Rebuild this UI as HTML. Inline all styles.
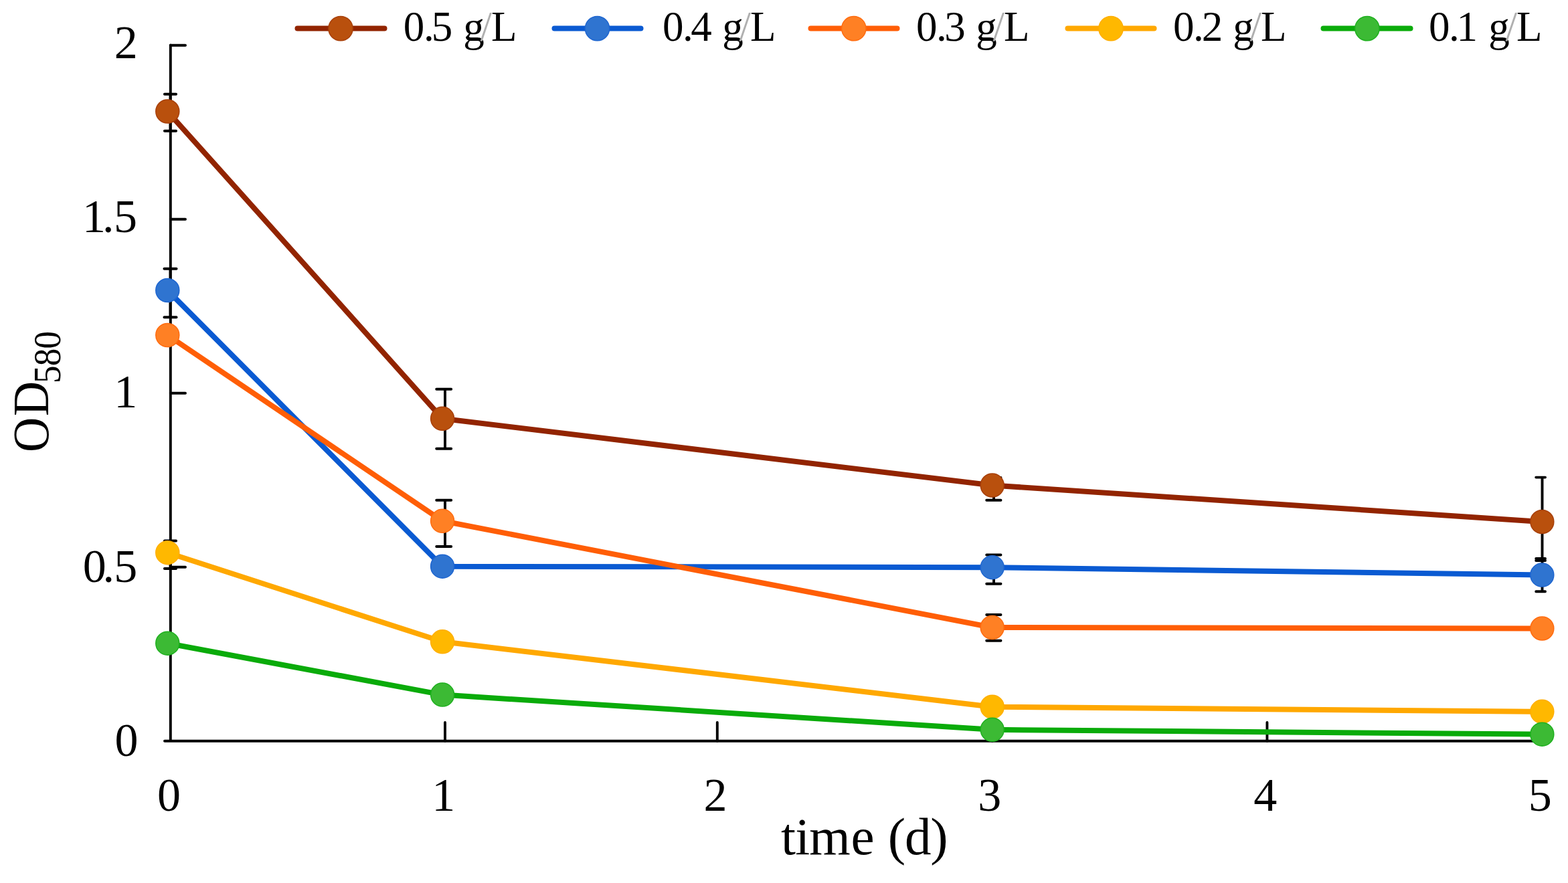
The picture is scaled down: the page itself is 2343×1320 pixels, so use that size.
<!DOCTYPE html><html><head><meta charset="utf-8"><title>OD580 chart</title><style>html,body{margin:0;padding:0;background:#fff;overflow:hidden}svg{display:block}</style></head><body>
<svg width="2343" height="1320" viewBox="0 0 2343 1320">
<rect width="2343" height="1320" fill="#fff"/>
<g stroke="#000" stroke-width="3.9" fill="none" stroke-linecap="round">
<path d="M254.8 67.5 V1107.8 M246 1107.8 H2300"/>
<path d="M254.8 67.8 H277"/>
<path d="M254.8 327.8 H277"/>
<path d="M254.8 587.8 H277"/>
<path d="M254.8 847.8 H277"/>
<path d="M665.0 1107.8 V1080"/>
<path d="M1071.8 1107.8 V1080"/>
<path d="M1482.7 1107.8 V1080"/>
<path d="M1893.4 1107.8 V1080"/>
</g>
<g stroke="#000" stroke-width="3.9" fill="none" stroke-linecap="round">
<path d="M254.5 140.7 V195.7 M245.9 140.7 H263.1 M245.9 195.7 H263.1"/>
<path d="M254.5 401.7 V474.3 M245.4 401.7 H263.6 M245.4 474.3 H263.6"/>
<path d="M254.5 808.5 V850.0 M245.9 808.5 H263.1 M245.9 850.0 H263.1"/>
<path d="M665.0 581.7 V670.8 M652.2 581.7 H674.2 M652.2 670.8 H674.2"/>
<path d="M665.0 747.8 V817.0 M652.2 747.8 H674.2 M652.2 817.0 H674.2"/>
<path d="M1485.0 714.0 V747.8 M1474.2 714.0 H1495.5 M1474.2 747.8 H1495.5"/>
<path d="M1485.0 829.5 V872.7 M1474.2 829.5 H1495.5 M1474.2 872.7 H1495.5"/>
<path d="M1485.0 919.0 V957.7 M1474.2 919.0 H1495.5 M1474.2 957.7 H1495.5"/>
<path d="M2304.5 713.6 V838.0 M2295.2 713.6 H2309.0 M2295.2 838.0 H2309.0"/>
<path d="M2304.5 835.0 V884.3 M2295.2 835.0 H2309.0 M2295.2 884.3 H2309.0"/>
</g>
<polyline points="250.3,166.5 661.1,625.8 1482.7,725.5 2304.3,780.0" fill="none" stroke="#922400" stroke-width="8" stroke-linejoin="round"/>
<polyline points="250.3,434.0 661.1,846.7 1482.7,848.2 2304.3,859.6" fill="none" stroke="#0a5ad2" stroke-width="8" stroke-linejoin="round"/>
<polyline points="250.3,501.0 661.1,778.8 1482.7,938.0 2304.3,939.5" fill="none" stroke="#ff5e06" stroke-width="8" stroke-linejoin="round"/>
<polyline points="250.3,826.2 661.1,959.3 1482.7,1056.7 2304.3,1063.8" fill="none" stroke="#ffa800" stroke-width="8" stroke-linejoin="round"/>
<polyline points="250.3,961.7 661.1,1038.6 1482.7,1090.8 2304.3,1097.7" fill="none" stroke="#0aab0a" stroke-width="8" stroke-linejoin="round"/>
<circle cx="250.3" cy="166.5" r="17.5" fill="#b9500d" stroke="#a8400a" stroke-width="1.5"/>
<circle cx="661.1" cy="625.8" r="17.5" fill="#b9500d" stroke="#a8400a" stroke-width="1.5"/>
<circle cx="1482.7" cy="725.5" r="17.5" fill="#b9500d" stroke="#a8400a" stroke-width="1.5"/>
<circle cx="2304.3" cy="780.0" r="17.5" fill="#b9500d" stroke="#a8400a" stroke-width="1.5"/>
<circle cx="250.3" cy="434.0" r="17.5" fill="#2f74d0" stroke="#1f66d0" stroke-width="1.5"/>
<circle cx="661.1" cy="846.7" r="17.5" fill="#2f74d0" stroke="#1f66d0" stroke-width="1.5"/>
<circle cx="1482.7" cy="848.2" r="17.5" fill="#2f74d0" stroke="#1f66d0" stroke-width="1.5"/>
<circle cx="2304.3" cy="859.6" r="17.5" fill="#2f74d0" stroke="#1f66d0" stroke-width="1.5"/>
<circle cx="250.3" cy="501.0" r="17.5" fill="#ff8024" stroke="#ff6c10" stroke-width="1.5"/>
<circle cx="661.1" cy="778.8" r="17.5" fill="#ff8024" stroke="#ff6c10" stroke-width="1.5"/>
<circle cx="1482.7" cy="938.0" r="17.5" fill="#ff8024" stroke="#ff6c10" stroke-width="1.5"/>
<circle cx="2304.3" cy="939.5" r="17.5" fill="#ff8024" stroke="#ff6c10" stroke-width="1.5"/>
<circle cx="250.3" cy="826.2" r="17.5" fill="#ffb800" stroke="#ffae00" stroke-width="1.5"/>
<circle cx="661.1" cy="959.3" r="17.5" fill="#ffb800" stroke="#ffae00" stroke-width="1.5"/>
<circle cx="1482.7" cy="1056.7" r="17.5" fill="#ffb800" stroke="#ffae00" stroke-width="1.5"/>
<circle cx="2304.3" cy="1063.8" r="17.5" fill="#ffb800" stroke="#ffae00" stroke-width="1.5"/>
<circle cx="250.3" cy="961.7" r="17.5" fill="#3cba34" stroke="#1fb01f" stroke-width="1.5"/>
<circle cx="661.1" cy="1038.6" r="17.5" fill="#3cba34" stroke="#1fb01f" stroke-width="1.5"/>
<circle cx="1482.7" cy="1090.8" r="17.5" fill="#3cba34" stroke="#1fb01f" stroke-width="1.5"/>
<circle cx="2304.3" cy="1097.7" r="17.5" fill="#3cba34" stroke="#1fb01f" stroke-width="1.5"/>
<text transform="translate(0 86.5) scale(1.0 1)" font-family="'Liberation Serif', 'Times New Roman', serif" font-size="70" fill="#000" xml:space="preserve"><tspan x="170.79" y="0">2</tspan></text>
<text transform="translate(0 347.3) scale(1.0 1)" font-family="'Liberation Serif', 'Times New Roman', serif" font-size="70" fill="#000" xml:space="preserve"><tspan x="123.03" y="0">1</tspan><tspan x="152.90" y="0">.</tspan><tspan x="169.98" y="0">5</tspan></text>
<text transform="translate(0 608.8) scale(1.0 1)" font-family="'Liberation Serif', 'Times New Roman', serif" font-size="70" fill="#000" xml:space="preserve"><tspan x="170.18" y="0">1</tspan></text>
<text transform="translate(0 870.0) scale(1.0 1)" font-family="'Liberation Serif', 'Times New Roman', serif" font-size="70" fill="#000" xml:space="preserve"><tspan x="123.80" y="0">0</tspan><tspan x="153.45" y="0">.</tspan><tspan x="170.33" y="0">5</tspan></text>
<text transform="translate(0 1130.3) scale(1.0 1)" font-family="'Liberation Serif', 'Times New Roman', serif" font-size="70" fill="#000" xml:space="preserve"><tspan x="171.50" y="0">0</tspan></text>
<text transform="translate(0 1212) scale(1.0 1)" font-family="'Liberation Serif', 'Times New Roman', serif" font-size="70" fill="#000" xml:space="preserve"><tspan x="235.00" y="0">0</tspan></text>
<text transform="translate(0 1212) scale(1.0 1)" font-family="'Liberation Serif', 'Times New Roman', serif" font-size="70" fill="#000" xml:space="preserve"><tspan x="645.23" y="0">1</tspan></text>
<text transform="translate(0 1212) scale(1.0 1)" font-family="'Liberation Serif', 'Times New Roman', serif" font-size="70" fill="#000" xml:space="preserve"><tspan x="1051.39" y="0">2</tspan></text>
<text transform="translate(0 1212) scale(1.0 1)" font-family="'Liberation Serif', 'Times New Roman', serif" font-size="70" fill="#000" xml:space="preserve"><tspan x="1461.19" y="0">3</tspan></text>
<text transform="translate(0 1212) scale(1.0 1)" font-family="'Liberation Serif', 'Times New Roman', serif" font-size="70" fill="#000" xml:space="preserve"><tspan x="1873.36" y="0">4</tspan></text>
<text transform="translate(0 1212) scale(1.0 1)" font-family="'Liberation Serif', 'Times New Roman', serif" font-size="70" fill="#000" xml:space="preserve"><tspan x="2283.63" y="0">5</tspan></text>
<text transform="translate(0 1277) scale(1.0 1)" font-family="'Liberation Serif', 'Times New Roman', serif" font-size="79" fill="#000" xml:space="preserve"><tspan x="1167.02" y="0">t</tspan><tspan x="1188.25" y="0">i</tspan><tspan x="1209.36" y="0">m</tspan><tspan x="1271.54" y="0">e </tspan><tspan x="1326.83" y="0">(</tspan><tspan x="1352.10" y="0">d</tspan><tspan x="1390.16" y="0">)</tspan></text>
<text transform="translate(71.8 0) rotate(-90) scale(0.95 1)" font-family="'Liberation Serif', 'Times New Roman', serif" font-size="76" fill="#000" xml:space="preserve"><tspan x="-711.65" y="0">O</tspan><tspan x="-654.65" y="0">D</tspan><tspan x="-603.06" y="18.0" font-size="56">5</tspan><tspan x="-576.00" y="18.0" font-size="56">8</tspan><tspan x="-548.95" y="18.0" font-size="56">0</tspan></text>
<path d="M444.5 42.6 H574.5" stroke="#922400" stroke-width="8" stroke-linecap="round"/>
<circle cx="509" cy="42.6" r="18.2" fill="#b9500d" stroke="#a8400a" stroke-width="1.5"/>
<text transform="translate(0 61) scale(1.0 1)" font-family="'Liberation Serif', 'Times New Roman', serif" font-size="63" fill="#000" xml:space="preserve"><tspan x="602.85" y="0">0</tspan><tspan x="632.93" y="0">.</tspan><tspan x="644.75" y="0">5 </tspan><tspan x="692.15" y="0">g</tspan><tspan x="717.45" y="0" fill="#b0b0b0">/</tspan><tspan x="733.94" y="0">L</tspan></text>
<path d="M828.5 42.6 H957.5" stroke="#0a5ad2" stroke-width="8" stroke-linecap="round"/>
<circle cx="892.5" cy="42.6" r="18.2" fill="#2f74d0" stroke="#1f66d0" stroke-width="1.5"/>
<text transform="translate(0 61) scale(1.0 1)" font-family="'Liberation Serif', 'Times New Roman', serif" font-size="63" fill="#000" xml:space="preserve"><tspan x="989.95" y="0">0</tspan><tspan x="1020.03" y="0">.</tspan><tspan x="1032.33" y="0">4 </tspan><tspan x="1079.25" y="0">g</tspan><tspan x="1104.55" y="0" fill="#b0b0b0">/</tspan><tspan x="1121.04" y="0">L</tspan></text>
<path d="M1211.5 42.6 H1340.5" stroke="#ff5e06" stroke-width="8" stroke-linecap="round"/>
<circle cx="1275.8" cy="42.6" r="18.2" fill="#ff8024" stroke="#ff6c10" stroke-width="1.5"/>
<text transform="translate(0 61) scale(1.0 1)" font-family="'Liberation Serif', 'Times New Roman', serif" font-size="63" fill="#000" xml:space="preserve"><tspan x="1368.95" y="0">0</tspan><tspan x="1399.03" y="0">.</tspan><tspan x="1411.17" y="0">3 </tspan><tspan x="1458.25" y="0">g</tspan><tspan x="1483.55" y="0" fill="#b0b0b0">/</tspan><tspan x="1500.04" y="0">L</tspan></text>
<path d="M1595.5 42.6 H1724.5" stroke="#ffa800" stroke-width="8" stroke-linecap="round"/>
<circle cx="1660" cy="42.6" r="18.2" fill="#ffb800" stroke="#ffae00" stroke-width="1.5"/>
<text transform="translate(0 61) scale(1.0 1)" font-family="'Liberation Serif', 'Times New Roman', serif" font-size="63" fill="#000" xml:space="preserve"><tspan x="1752.95" y="0">0</tspan><tspan x="1783.03" y="0">.</tspan><tspan x="1795.80" y="0">2 </tspan><tspan x="1842.25" y="0">g</tspan><tspan x="1867.55" y="0" fill="#b0b0b0">/</tspan><tspan x="1884.04" y="0">L</tspan></text>
<path d="M1977.5 42.6 H2107.5" stroke="#0aab0a" stroke-width="8" stroke-linecap="round"/>
<circle cx="2042.9" cy="42.6" r="18.2" fill="#3cba34" stroke="#1fb01f" stroke-width="1.5"/>
<text transform="translate(0 61) scale(1.0 1)" font-family="'Liberation Serif', 'Times New Roman', serif" font-size="63" fill="#000" xml:space="preserve"><tspan x="2134.95" y="0">0</tspan><tspan x="2165.02" y="0">.</tspan><tspan x="2176.57" y="0">1 </tspan><tspan x="2224.25" y="0">g</tspan><tspan x="2249.55" y="0" fill="#b0b0b0">/</tspan><tspan x="2266.04" y="0">L</tspan></text>
</svg></body></html>
